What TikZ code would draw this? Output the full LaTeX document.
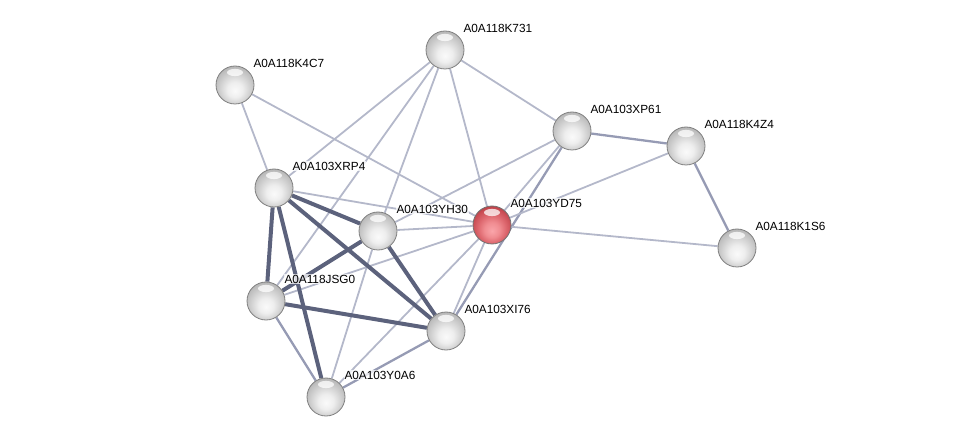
\documentclass[tikz,border=0pt]{standalone}
\usepackage{fontspec}
\newfontfamily\lblfont{Liberation Sans}
\usetikzlibrary{backgrounds}

\definecolor{edgethin}{RGB}{180,184,202}
\definecolor{edgemid}{RGB}{150,155,180}
\definecolor{edgethick}{RGB}{92,98,124}
\definecolor{gA}{RGB}{250,250,250}
\definecolor{gB}{RGB}{238,238,238}
\definecolor{gC}{RGB}{214,214,214}
\definecolor{gD}{RGB}{190,190,190}
\definecolor{gE}{RGB}{165,165,165}
\definecolor{rA}{RGB}{250,165,170}
\definecolor{rB}{RGB}{240,140,145}
\definecolor{rC}{RGB}{222,105,112}
\definecolor{rD}{RGB}{200,75,82}
\definecolor{rE}{RGB}{160,50,55}
\pgfdeclareradialshading{protgray}{\pgfpoint{0bp}{-8bp}}{color(0bp)=(gA); color(10bp)=(gB);
  color(18bp)=(gC); color(26bp)=(gD); color(33bp)=(gE); color(50bp)=(gE)}
\pgfdeclareradialshading{protred}{\pgfpoint{0bp}{-8bp}}{color(0bp)=(rA); color(10bp)=(rB);
  color(18bp)=(rC); color(26bp)=(rD); color(33bp)=(rE); color(50bp)=(rE)}

\tikzset{
  prot/.style={circle, minimum size=38pt, inner sep=0pt, draw=black!50, line width=0.8pt,
    shading=protgray,
    path picture={\fill[white, opacity=0.75] ([yshift=-6.5pt]path picture bounding box.north)
      ellipse (8pt and 3.6pt);}},
  query/.style={prot, draw=black!55, shading=protred},
  lbl/.style={anchor=west, inner sep=0.8pt, fill=white, fill opacity=0.75, text opacity=1,
    font=\lblfont\fontsize{11.8}{13}\selectfont},
  lo/.style={draw=edgethin, line width=1.8pt},
  mid/.style={draw=edgemid, line width=2.3pt},
  hi/.style={draw=edgethick, line width=4pt}
}

\begin{document}
\begin{tikzpicture}[x=1pt, y=-1pt]
\useasboundingbox (0,0) rectangle (976,443);

% proteins
\node[prot] (k731) at (445,50) {};
\node[prot] (k4c7) at (235,85) {};
\node[prot] (xp61) at (572,131) {};
\node[prot] (k4z4) at (686,146) {};
\node[prot] (k1s6) at (737,248) {};
\node[query] (yd75) at (492,225) {};
\node[prot] (xrp4) at (274,188) {};
\node[prot] (yh30) at (378,231) {};
\node[prot] (jsg0) at (266,301) {};
\node[prot] (xi76) at (446,331) {};
\node[prot] (y0a6) at (326,397) {};

% names
\node[lbl] (k731l) at ([shift={(17.5,-22)}]k731.center) {A0A118K731};
\node[lbl] (k4c7l) at ([shift={(17.5,-22)}]k4c7.center) {A0A118K4C7};
\node[lbl] (xp61l) at ([shift={(17.5,-22)}]xp61.center) {A0A103XP61};
\node[lbl] (k4z4l) at ([shift={(17.5,-22)}]k4z4.center) {A0A118K4Z4};
\node[lbl] (k1s6l) at ([shift={(17.5,-22)}]k1s6.center) {A0A118K1S6};
\node[lbl] (yd75l) at ([shift={(17.5,-22)}]yd75.center) {A0A103YD75};
\node[lbl] (xrp4l) at ([shift={(17.5,-22)}]xrp4.center) {A0A103XRP4};
\node[lbl] (yh30l) at ([shift={(17.5,-22)}]yh30.center) {A0A103YH30};
\node[lbl] (jsg0l) at ([shift={(17.5,-22)}]jsg0.center) {A0A118JSG0};
\node[lbl] (xi76l) at ([shift={(17.5,-22)}]xi76.center) {A0A103XI76};
\node[lbl] (y0a6l) at ([shift={(17.5,-22)}]y0a6.center) {A0A103Y0A6};

% interactions
\begin{scope}[on background layer]
\draw[lo] (k731) -- (xrp4);
\draw[lo] (k731) -- (jsg0);
\draw[lo] (k731) -- (yh30);
\draw[lo] (k731) -- (yd75);
\draw[lo] (k731) -- (xp61);
\draw[lo] (k4c7) -- (xrp4);
\draw[lo] (k4c7) -- (yd75);
\draw[lo] (xp61) -- (yh30);
\draw[lo] (xp61) -- (yd75);
\draw[mid] (xp61) -- (xi76);
\draw[mid] (xp61) -- (k4z4);
\draw[lo] (k4z4) -- (yd75);
\draw[mid] (k4z4) -- (k1s6);
\draw[lo] (yd75) -- (k1s6);
\draw[lo] (yd75) -- (xrp4);
\draw[lo] (yd75) -- (yh30);
\draw[lo] (yd75) -- (jsg0);
\draw[lo] (yd75) -- (xi76);
\draw[lo] (yd75) -- (y0a6);
\draw[lo] (yh30) -- (y0a6);
\draw[mid] (jsg0) -- (y0a6);
\draw[mid] (xi76) -- (y0a6);
\draw[hi] (xrp4) -- (yh30);
\draw[hi] (xrp4) -- (jsg0);
\draw[hi] (xrp4) -- (y0a6);
\draw[hi] (xrp4) -- (xi76);
\draw[hi] (yh30) -- (jsg0);
\draw[hi] (yh30) -- (xi76);
\draw[hi] (jsg0) -- (xi76);
\end{scope}
\end{tikzpicture}
\end{document}
